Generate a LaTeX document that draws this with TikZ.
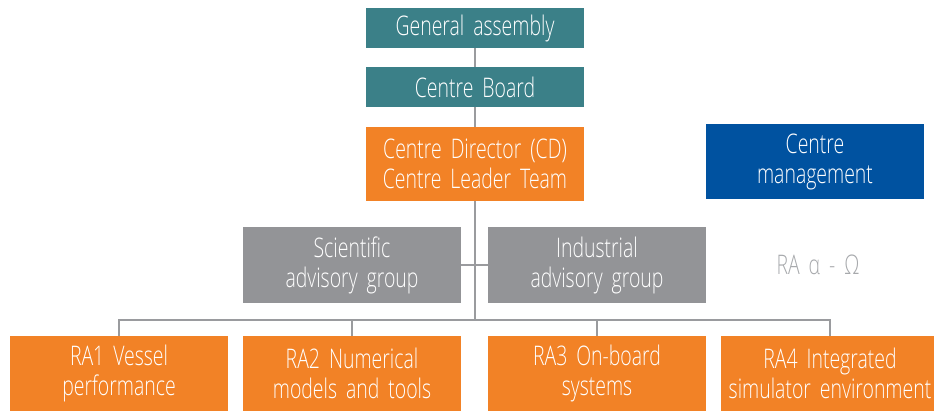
\documentclass[tikz,border=0pt]{standalone}
\usepackage{fontspec}
\setmainfont{Open Sans}[UprightFont=* Light,FakeStretch=0.72,WordSpace=0.7]
\usetikzlibrary{positioning,calc}
\definecolor{tealbox}{HTML}{3B8088}
\definecolor{orangebox}{HTML}{F28226}
\definecolor{greybox}{HTML}{939497}
\definecolor{bluebox}{HTML}{0052A0}
\definecolor{wire}{HTML}{9A9B9E}
\definecolor{softtext}{HTML}{A7A9AC}
\newcommand\orgfont{\fontsize{27}{30}\selectfont\spaceskip=5.5pt minus 1pt\relax}
\tikzset{orgbox/.style={draw=none,text=white,align=center,inner sep=0pt,
 minimum width=218pt,text width=216pt,font=\orgfont},
 orgline/.style={draw=wire,line width=2pt}}
\begin{document}
\begin{tikzpicture}[x=1pt,y=-1pt,t/.style={orgbox,minimum height=40pt},b/.style={orgbox,minimum height=75pt}]
\useasboundingbox (0,0) rectangle (934,411);
\node[t,fill=tealbox] (ga) at (475,28) {General assembly};
\node[t,fill=tealbox] (cb) at (475,87) {Centre Board};
\node[b,fill=orangebox,minimum height=74pt] (cd) at (475,164) {Centre Director (CD)\\Centre Leader Team};
\node[b,fill=bluebox] (cm) at (815,161.5) {Centre\\management};
\node[b,fill=greybox,minimum height=76pt] (sci) at (352,265) {Scientific\\advisory group};
\node[b,fill=greybox,minimum height=76pt] (ind) at (597,265) {Industrial\\advisory group};
\node[orgbox,text=softtext,minimum width=0pt,text width=120pt] (ra) at (818,265) {RA α - Ω};
\node[b,fill=orangebox] (ra1) at (119,373.5) {RA1 Vessel\\performance};
\node[b,fill=orangebox] (ra2) at (352,373.5) {RA2 Numerical\\models and tools};
\node[b,fill=orangebox] (ra3) at (597,373.5) {RA3 On-board\\systems};
\node[b,fill=orangebox] (ra4) at (830,373.5) {RA4 Integrated\\simulator environment};
\coordinate (bus) at (475,320);
\draw[orgline] (ga)--(cb);\draw[orgline] (cb)--(cd);\draw[orgline] (cd.south)--(bus);
\draw[orgline] (sci.east)--(ind.west);
\draw[orgline] (ra1.north) |- (bus) -| (ra4.north);
\draw[orgline] (ra2.north)--(ra2.north |- bus);\draw[orgline] (ra3.north)--(ra3.north |- bus);
\end{tikzpicture}
\end{document}
